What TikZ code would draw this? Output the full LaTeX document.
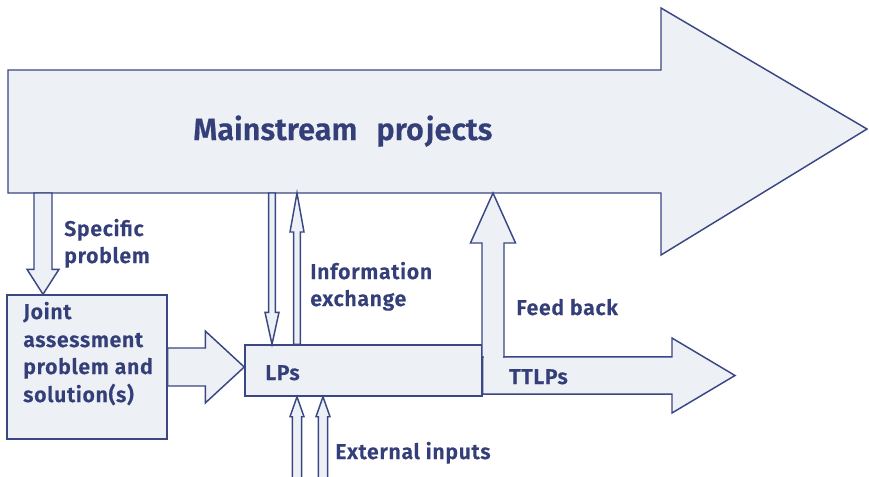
\documentclass[tikz,border=0pt]{standalone}
\usepackage{fontspec}
\setmainfont{Fira Sans}[UprightFont=* SemiBold, BoldFont=* Bold, FakeBold=0.6]
\newfontfamily\lblfont{Fira Sans}[UprightFont=* SemiBold, LetterSpace=3, FakeBold=0.6]
\usetikzlibrary{calc}
\definecolor{navy}{RGB}{58,71,132}
\definecolor{inkblue}{RGB}{52,63,122}
\definecolor{paleblue}{RGB}{237,240,244}
\tikzset{
  shapeline/.style={draw=navy, line width=1.1pt, fill=paleblue, line join=miter},
  boxnode/.style={shapeline, rectangle, inner sep=0pt},
  lbl/.style={text=inkblue, font=\lblfont\fontsize{16}{20}\selectfont, anchor=base west, inner sep=0pt},
  title/.style={text=inkblue, font=\fontsize{23}{28}\selectfont, anchor=base west, inner sep=0pt},
}
% block arrow from #2 to #3: half shaft #4, half head #5, head length #6
\newcommand\blockarrow[6]{%
  \coordinate (ba-base) at ($(#3)!#6!(#2)$);
  \draw[shapeline,#1] ($(#2)!#4!90:(#3)$) -- ($(ba-base)!#4!90:(#3)$)
    -- ($(ba-base)!#5!90:(#3)$) -- (#3) -- ($(ba-base)!#5!-90:(#3)$)
    -- ($(ba-base)!#4!-90:(#3)$) -- ($(#2)!#4!-90:(#3)$) -- cycle;
}
\begin{document}
\begin{tikzpicture}[x=0.75pt,y=-0.75pt]
\useasboundingbox (0,0) rectangle (869,476);
\clip (0,0) rectangle (869,476);

% main stream arrow
\draw[shapeline] (8,70) -- (661,70) -- (661,8) -- (867,129) -- (661,255)
  -- (661,193) -- (8,193) -- cycle;
\node[title] (main) at (193,140) {Mainstream\hspace{0.62em}pro\kern1.5pt jects};
\coordinate (mb) at (0,193);

% boxes
\node[boxnode, minimum width=120pt, minimum height=108pt] (joint) at (87,367) {};
\node[boxnode, minimum width=177.75pt, minimum height=38.25pt] (lps) at (363.5,370.5) {};

% anchor points of the connectors
\coordinate (sp-s) at (43,193);
\coordinate (sp-e) at (joint.north -| sp-s);
\coordinate (jl-s) at (joint.east |- 0,367);
\coordinate (jl-e) at (lps.west |- jl-s);
\coordinate (id-s) at (272,193);
\coordinate (id-e) at (lps.north -| id-s);
\coordinate (iu-e) at (297,193);
\coordinate (iu-s) at (lps.north -| iu-e);
\coordinate (ea-s) at (297,482);
\coordinate (ea-e) at (lps.south -| ea-s);
\coordinate (eb-s) at (323,482);
\coordinate (eb-e) at (lps.south -| eb-s);
\coordinate (tt-s) at (lps.east |- 0,375.5);
\coordinate (tt-e) at (735,375.5);
\coordinate (fb-s) at (493,357);
\coordinate (fb-e) at (mb -| fb-s);

% connectors
\blockarrow{}{sp-s}{sp-e}{6.75pt}{12pt}{18.75pt}
\blockarrow{}{jl-s}{jl-e}{14.25pt}{27pt}{29.25pt}
\blockarrow{}{id-s}{id-e}{2.6pt}{5.25pt}{24pt}
\blockarrow{}{iu-s}{iu-e}{2.6pt}{5.25pt}{29.25pt}
\blockarrow{}{ea-s}{ea-e}{3.4pt}{5.25pt}{15pt}
\blockarrow{}{eb-s}{eb-e}{3.4pt}{5.25pt}{15pt}
\blockarrow{}{tt-s}{tt-e}{13.9pt}{28.1pt}{47.25pt}
\blockarrow{}{fb-s}{fb-e}{8.25pt}{16.9pt}{37.5pt}
\fill[paleblue] (483.5,355.5) rectangle (503.3,358.8);

% labels
\node[lbl] (l-spec1) at (64,236) {Specific};
\node[lbl] (l-spec2) at (64,263) {problem};
\node[lbl] (l-j1) at (23,319) {Joint};
\node[lbl] (l-j2) at (23,347) {assessment};
\node[lbl] (l-j3) at (23,374) {problem and};
\node[lbl] (l-j4) at (23,402) {solution(s)};
\node[lbl] (l-lps) at (265,380) {LPs};
\node[lbl] (l-inf1) at (310,279) {Information};
\node[lbl] (l-inf2) at (310,306) {exchange};
\node[lbl] (l-fb) at (516,315) {Feed back};
\node[lbl] (l-tt) at (509,384) {TTLPs};
\node[lbl] (l-ext) at (335,459) {External inputs};
\end{tikzpicture}
\end{document}
